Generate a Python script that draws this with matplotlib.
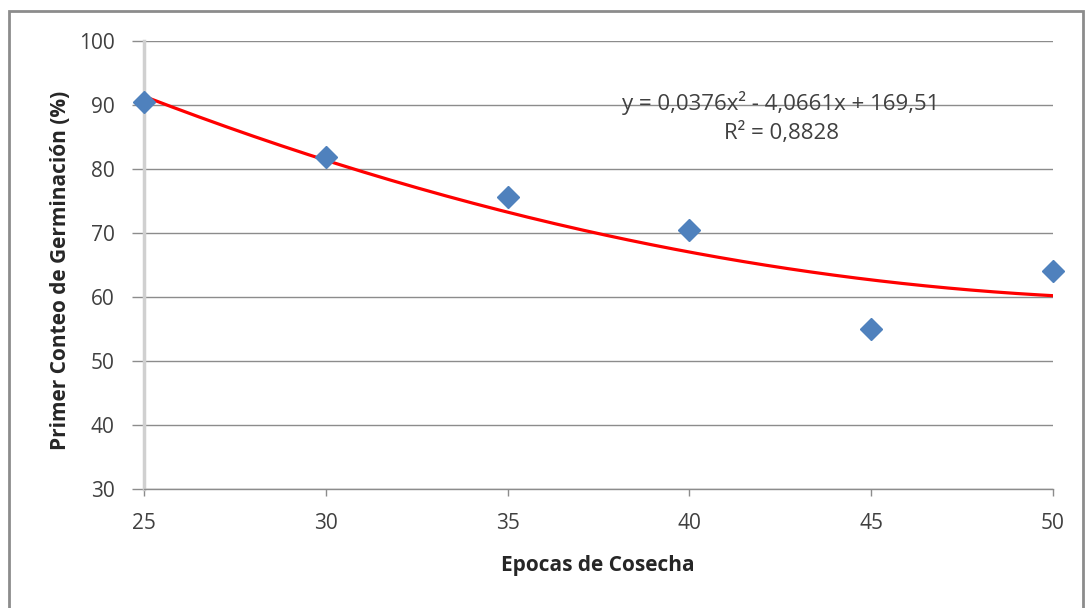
import numpy as np
import matplotlib
matplotlib.use("Agg")
import matplotlib.pyplot as plt
from matplotlib.patches import Rectangle

plt.rcParams['font.family'] = ['Open Sans', 'DejaVu Sans']

epocas = [25, 30, 35, 40, 45, 50]
conteo = [90.5, 81.9, 75.6, 70.5, 55.0, 64.1]
coef = [0.0376, -4.0661, 169.51]
eq_text = "y = 0,0376x² - 4,0661x + 169,51"
r2_text = "R² = 0,8828"
xticks = [25, 30, 35, 40, 45, 50]
yticks = [30, 40, 50, 60, 70, 80, 90, 100]

W, H = 1085, 608
fig = plt.figure(figsize=(W/100, H/100), dpi=100)
fig.patches.append(Rectangle((9/W, -0.1), (1083-9)/W, 1.1 - 11/H,
                             transform=fig.transFigure, fill=False,
                             edgecolor='#8c8c8c', linewidth=2))
ax = fig.add_axes([144/W, 1-489/H, (1053-144)/W, (489-41)/H])

ax.set_xlim(25, 50)
ax.set_ylim(30, 100)
ax.set_yticks(yticks)
ax.set_xticks(xticks)
ax.yaxis.grid(True, color='#8c8c8c', linewidth=1)
ax.set_axisbelow(True)

for s in ['top', 'right']:
    ax.spines[s].set_visible(False)
ax.spines['left'].set_color('#d0d0d0')
ax.spines['left'].set_linewidth(2.5)
ax.spines['bottom'].set_color('#8c8c8c')
ax.spines['bottom'].set_linewidth(1)
ax.tick_params(axis='y', length=9, color='#8c8c8c', width=1, labelsize=15,
               labelcolor='#404040', pad=12)
ax.tick_params(axis='x', length=5, color='#8c8c8c', width=1, labelsize=15,
               labelcolor='#404040', pad=12)

xs = np.linspace(25, 50, 200)
ax.plot(xs, np.polyval(coef, xs), color='#ff0000', linewidth=2.3, zorder=3)
ax.plot(epocas, conteo, linestyle='none', marker='D', markersize=11,
        color='#4f81bd', zorder=4, clip_on=False)

fig.text(781/W, 1-103/H, eq_text, fontsize=16, color='#404040',
         ha='center', va='center')
fig.text(781/W, 1-133/H, r2_text, fontsize=16, color='#404040',
         ha='center', va='center')

fig.text(598/W, 1-565/H, 'Epocas de Cosecha', fontsize=15, fontweight='bold',
         color='#262626', ha='center', va='center')
fig.text(60/W, 1-270/H, 'Primer Conteo de Germinación (%)', fontsize=15,
         fontweight='bold', color='#262626', ha='center', va='center',
         rotation=90)

fig.savefig('out.png', dpi=100)
